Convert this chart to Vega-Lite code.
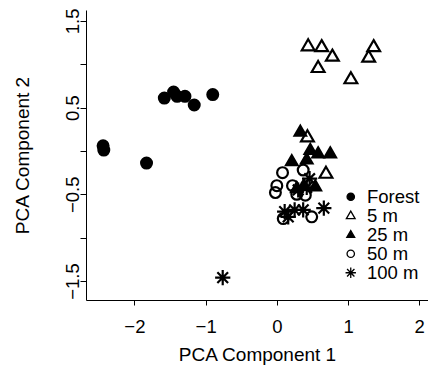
{
  "$schema": "https://vega.github.io/schema/vega-lite/v6.json",
  "autosize": "none",
  "width": 342,
  "height": 290,
  "padding": {"left": 86, "top": 10, "right": 0, "bottom": 69},
  "background": "white",
  "config": {
    "view": {"stroke": null},
    "font": "Liberation Sans",
    "legend": {
      "title": null, "padding": 0,
      "symbolSize": 120, "symbolStrokeWidth": 1.3,
      "labelFont": "Liberation Sans", "labelFontSize": 18.5, "labelColor": "black",
      "labelOffset": 7, "rowPadding": 0
    }
  },
  "data": {
    "values": [
      {"site": "Forest", "pc1": -2.44, "pc2": 0.06},
      {"site": "Forest", "pc1": -2.43, "pc2": 0.01},
      {"site": "Forest", "pc1": -1.83, "pc2": -0.14},
      {"site": "Forest", "pc1": -1.58, "pc2": 0.61},
      {"site": "Forest", "pc1": -1.45, "pc2": 0.68},
      {"site": "Forest", "pc1": -1.40, "pc2": 0.63},
      {"site": "Forest", "pc1": -1.29, "pc2": 0.63},
      {"site": "Forest", "pc1": -1.16, "pc2": 0.53},
      {"site": "Forest", "pc1": -0.90, "pc2": 0.65},
      {"site": "5 m", "pc1": 0.44, "pc2": 1.21},
      {"site": "5 m", "pc1": 0.63, "pc2": 1.20},
      {"site": "5 m", "pc1": 0.78, "pc2": 1.09},
      {"site": "5 m", "pc1": 0.58, "pc2": 0.96},
      {"site": "5 m", "pc1": 1.04, "pc2": 0.83},
      {"site": "5 m", "pc1": 1.36, "pc2": 1.20},
      {"site": "5 m", "pc1": 1.29, "pc2": 1.08},
      {"site": "5 m", "pc1": 0.43, "pc2": 0.16},
      {"site": "5 m", "pc1": 0.69, "pc2": -0.26},
      {"site": "25 m", "pc1": 0.33, "pc2": 0.22},
      {"site": "25 m", "pc1": 0.47, "pc2": 0.01},
      {"site": "25 m", "pc1": 0.58, "pc2": -0.03},
      {"site": "25 m", "pc1": 0.75, "pc2": -0.03},
      {"site": "25 m", "pc1": 0.21, "pc2": -0.12},
      {"site": "25 m", "pc1": 0.42, "pc2": -0.10},
      {"site": "25 m", "pc1": 0.54, "pc2": -0.41},
      {"site": "25 m", "pc1": 0.28, "pc2": -0.43},
      {"site": "25 m", "pc1": 0.38, "pc2": -0.40},
      {"site": "50 m", "pc1": 0.08, "pc2": -0.25},
      {"site": "50 m", "pc1": 0.37, "pc2": -0.22},
      {"site": "50 m", "pc1": 0.00, "pc2": -0.40},
      {"site": "50 m", "pc1": -0.02, "pc2": -0.48},
      {"site": "50 m", "pc1": 0.40, "pc2": -0.51},
      {"site": "50 m", "pc1": 0.09, "pc2": -0.78},
      {"site": "50 m", "pc1": 0.49, "pc2": -0.76},
      {"site": "50 m", "pc1": 0.22, "pc2": -0.40},
      {"site": "50 m", "pc1": 0.28, "pc2": -0.50},
      {"site": "100 m", "pc1": 0.11, "pc2": -0.70},
      {"site": "100 m", "pc1": 0.16, "pc2": -0.76},
      {"site": "100 m", "pc1": 0.25, "pc2": -0.68},
      {"site": "100 m", "pc1": 0.37, "pc2": -0.68},
      {"site": "100 m", "pc1": 0.66, "pc2": -0.66},
      {"site": "100 m", "pc1": -0.76, "pc2": -1.46},
      {"site": "100 m", "pc1": 0.46, "pc2": -0.32},
      {"site": "100 m", "pc1": 0.30, "pc2": -0.45},
      {"site": "100 m", "pc1": 0.42, "pc2": -0.42}
    ]
  },
  "mark": {"type": "point", "strokeWidth": 2.2, "opacity": 1, "size": 256},
  "encoding": {
    "x": {
      "field": "pc1", "type": "quantitative",
      "scale": {"domain": [-2.68, 2.123], "nice": false, "zero": false},
      "axis": {
        "title": "PCA Component 1",
        "values": [-2, -1, 0, 1, 2],
        "format": "d",
        "grid": false,
        "domainColor": "black", "domainWidth": 1,
        "tickColor": "black", "tickWidth": 1, "tickSize": 5,
        "labelFont": "Liberation Sans", "labelFontSize": 18.5, "labelColor": "black",
        "labelBaseline": "alphabetic", "labelPadding": 27.5,
        "labelFlush": false, "labelOverlap": false,
        "titleFont": "Liberation Sans", "titleFontSize": 19, "titleFontWeight": "normal", "titleColor": "black",
        "titleBaseline": "alphabetic", "titleY": 60, "titleX": 171
      }
    },
    "y": {
      "field": "pc2", "type": "quantitative",
      "scale": {"domain": [-1.719, 1.626], "nice": false, "zero": false},
      "axis": {
        "title": "PCA Component 2",
        "values": [-1.5, -1, -0.5, 0, 0.5, 1, 1.5],
        "format": ".1f",
        "labelExpr": "(datum.value == 1 || datum.value == 0 || datum.value == -1) ? '' : datum.label",
        "grid": false,
        "domainColor": "black", "domainWidth": 1,
        "tickColor": "black", "tickWidth": 1, "tickSize": 6,
        "labelFont": "Liberation Sans", "labelFontSize": 18.5, "labelColor": "black",
        "labelAngle": -90, "labelAlign": "center", "labelBaseline": "alphabetic", "labelPadding": 2,
        "labelFlush": false, "labelOverlap": false,
        "titleFont": "Liberation Sans", "titleFontSize": 19, "titleFontWeight": "normal", "titleColor": "black",
        "titleAngle": -90, "titleAlign": "center", "titleBaseline": "alphabetic", "titleX": -57.5, "titleY": 145
      }
    },
    "shape": {
      "field": "site", "type": "nominal",
      "scale": {
        "domain": ["Forest", "5 m", "25 m", "50 m", "100 m"],
        "range": [
          "M-0.675,0A0.675,0.675 0 1,0 0.675,0A0.675,0.675 0 1,0 -0.675,0Z",
          "M0,-0.85L0.8,0.53L-0.8,0.53Z",
          "M0,-0.77L0.72,0.48L-0.72,0.48Z",
          "M-0.675,0A0.675,0.675 0 1,0 0.675,0A0.675,0.675 0 1,0 -0.675,0Z",
          "M-0.95,0H0.95M0,-0.95V0.95M-0.67,-0.67L0.67,0.67M-0.67,0.67L0.67,-0.67"
        ]
      },
      "legend": {"orient": "none", "legendX": 255.5, "legendY": 177.5}
    },
    "fill": {
      "field": "site", "type": "nominal",
      "scale": {
        "domain": ["Forest", "5 m", "25 m", "50 m", "100 m"],
        "range": ["black", "transparent", "black", "transparent", "transparent"]
      },
      "legend": {"orient": "none", "legendX": 255.5, "legendY": 177.5}
    },
    "stroke": {
      "field": "site", "type": "nominal",
      "scale": {
        "domain": ["Forest", "5 m", "25 m", "50 m", "100 m"],
        "range": ["black", "black", "black", "black", "black"]
      },
      "legend": {"orient": "none", "legendX": 255.5, "legendY": 177.5}
    }
  }
}
